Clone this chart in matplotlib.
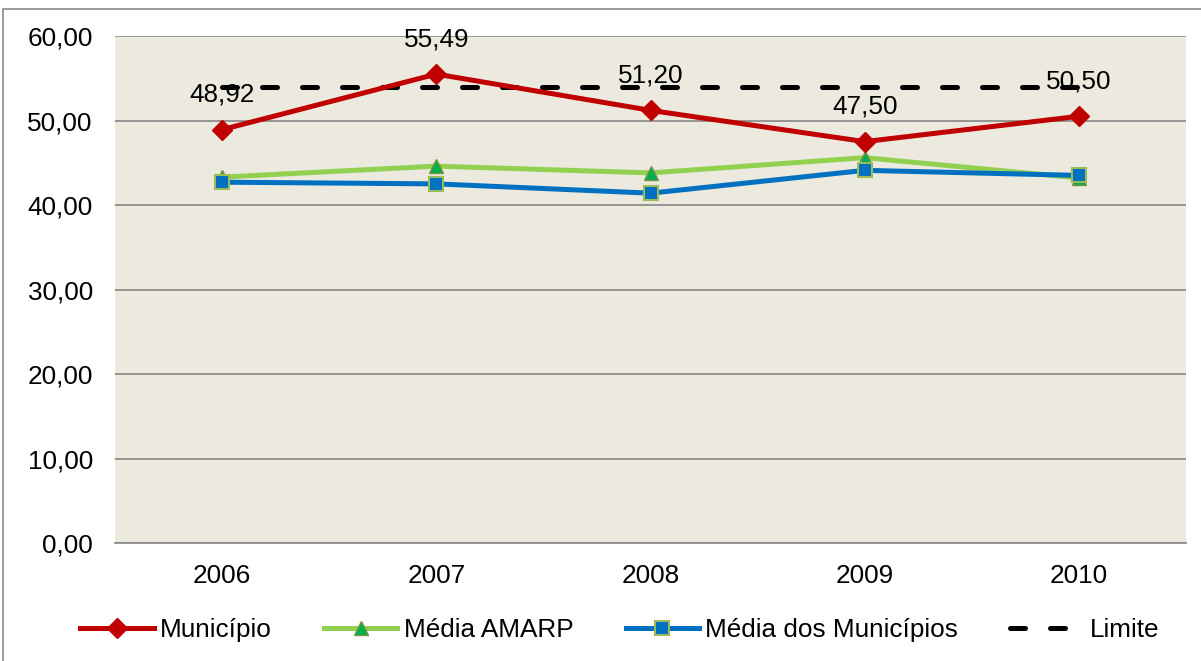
import matplotlib.pyplot as plt
import matplotlib.patches as mpatches
from matplotlib.ticker import FuncFormatter

plt.rcParams['font.family'] = ['Liberation Sans', 'DejaVu Sans']

anos = ['2006', '2007', '2008', '2009', '2010']
municipio = [48.92, 55.49, 51.20, 47.50, 50.50]
media_amarp = [43.3, 44.6, 43.8, 45.6, 43.2]
media_municipios = [42.7, 42.5, 41.4, 44.1, 43.5]
limite = [54.0, 54.0, 54.0, 54.0, 54.0]
yticks = [0, 10, 20, 30, 40, 50, 60]

x = list(range(len(anos)))
fs = 18.8

fig = plt.figure(figsize=(12.01, 6.61), dpi=100)
ax = fig.add_axes([115 / 1201, 1 - 543 / 661, (1186 - 115) / 1201, (543 - 36) / 661])
ax.set_facecolor('#ECE9DF')

# moldura externa do gráfico
fig.patches.append(mpatches.Rectangle((3 / 1201, -0.01), 1.1, 1 - 9 / 661 + 0.01,
                                      transform=fig.transFigure, fill=False,
                                      edgecolor='#888888', linewidth=1.2))

ax.plot(x, municipio, color='#C00000', linewidth=3.6, marker='D', markersize=10,
        markerfacecolor='#C00000', markeredgecolor='#C00000', label='Município', zorder=5)
ax.plot(x, media_amarp, color='#92D050', linewidth=3.6, marker='^', markersize=10,
        markerfacecolor='#00B050', markeredgecolor='#77933C', label='Média AMARP', zorder=4)
ax.plot(x, media_municipios, color='#0070C0', linewidth=3.6, marker='s', markersize=10,
        markerfacecolor='#0070C0', markeredgecolor='#9BBB59', markeredgewidth=1.5,
        label='Média dos Municípios', zorder=4)
ax.plot(x, limite, color='black', linewidth=3.6, linestyle=(0, (3, 5)),
        dash_capstyle='round', label='Limite', zorder=3)

for xi, v in zip(x, municipio):
    ax.annotate(f'{v:.2f}'.replace('.', ','), (xi, v), xytext=(0, 25),
                textcoords='offset points', ha='center', va='center', fontsize=fs, zorder=6)

ax.set_xlim(-0.5, len(anos) - 0.5)
ax.set_ylim(0, 60)
ax.set_yticks(yticks)
ax.yaxis.set_major_formatter(FuncFormatter(lambda v, p: f'{v:.2f}'.replace('.', ',')))
ax.set_xticks(x)
ax.set_xticklabels(anos)
ax.tick_params(axis='both', labelsize=fs, length=0)
ax.tick_params(axis='x', pad=15)
ax.tick_params(axis='y', pad=16)
ax.grid(axis='y', color='#868686', linewidth=1.2)
ax.set_axisbelow(True)
for s in ['top', 'right', 'left']:
    ax.spines[s].set_visible(False)
ax.spines['bottom'].set_color('#868686')
ax.spines['bottom'].set_linewidth(1.2)

fig.legend(loc='center', bbox_to_anchor=(620 / 1201, 1 - 630 / 661), ncol=4, frameon=False,
           fontsize=fs, handlelength=2.8, columnspacing=2.0, handletextpad=0.25)

fig.savefig('out.png', dpi=100, facecolor='white')
